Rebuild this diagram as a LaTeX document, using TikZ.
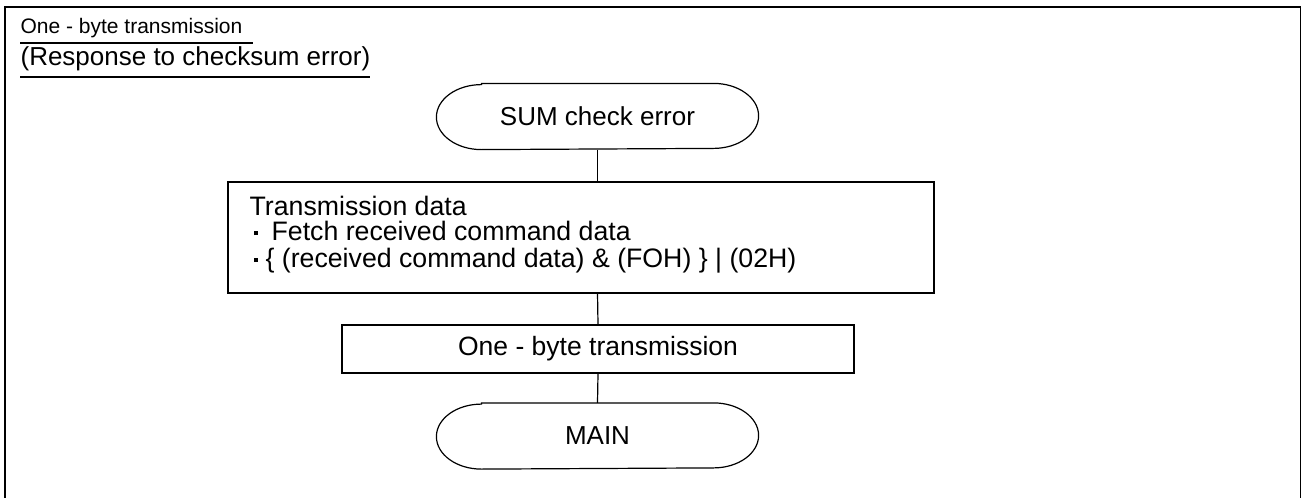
\documentclass[tikz,border=0pt]{standalone}
\usepackage{fontspec}
\setmainfont{Liberation Sans}
\begin{document}
\begin{tikzpicture}[x=1pt,y=-1pt,line width=1.2pt,
  term/.style={rectangle,minimum width=321pt,minimum height=65pt,inner sep=0pt,font=\fontsize{26}{30}\selectfont},
  procbox/.style={draw,rectangle,inner sep=0pt,font=\fontsize{26.5}{30}\selectfont},
  conn/.style={draw,line width=1.2pt},
  txt/.style={inner sep=0pt,anchor=base west,font=\fontsize{26.7}{30}\selectfont}]
\useasboundingbox (0,0) rectangle (1304,498);
% frame
\draw[line width=1.5pt] (5,500) -- (5,7) -- (1300.5,7) -- (1300.5,500);
% title
\node[inner sep=0pt,anchor=base west,font=\fontsize{21}{25}\selectfont] (t1) at (20,33) {One - byte transmission};
\draw[line width=1.1pt] (20,43) -- (253,43);
\node[inner sep=0pt,anchor=base west,font=\fontsize{26}{30}\selectfont] (t2) at (20,65) {(Response to checksum error)};
\draw[line width=1.1pt] (20,77) -- (370,77);
% nodes
\node[term] (sum) at (597.5,116.5) {SUM check error};
\draw ([xshift=45pt]sum.north west) -- ([xshift=-45pt]sum.north east)
  arc[start angle=90,end angle=-90,x radius=45pt,y radius=32.5pt]
  -- ([xshift=45pt]sum.south west)
  arc[start angle=270,end angle=90,x radius=45pt,y radius=32.5pt] -- cycle;
\node[procbox,minimum width=706pt,minimum height=111pt] (td) at (581,237.5) {};
\node[txt] (l1) at (249,215) {Transmission data};
\node[txt] (l2) at (253,240) {\rule[5pt]{4pt}{4pt}\hspace{14pt}Fetch received command data};
\node[txt] (l3) at (253,267) {\rule[5pt]{4pt}{4pt}\hspace{8pt}\{ (received command data) \& (FOH) \} | (02H)};
\node[procbox,minimum width=512pt,minimum height=48pt] (ob) at (598,349) {One - byte transmission};
\node[term] (main) at (597.5,436) {MAIN};
\draw ([xshift=45pt]main.north west) -- ([xshift=-45pt]main.north east)
  arc[start angle=90,end angle=-90,x radius=45pt,y radius=32.5pt]
  -- ([xshift=45pt]main.south west)
  arc[start angle=270,end angle=90,x radius=45pt,y radius=32.5pt] -- cycle;
% connectors
\coordinate (a1) at (597.5,182);
\coordinate (a2) at (597.5,293);
\draw[conn] (sum.south) -- (a1);
\draw[conn] (a2) -- (ob.north);
\draw[conn] (ob.south) -- (main.north);
\end{tikzpicture}
\end{document}
